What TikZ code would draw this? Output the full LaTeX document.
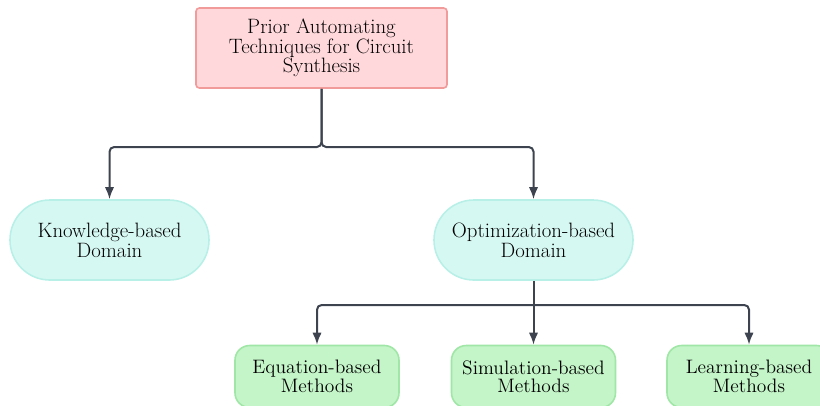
\documentclass[tikz,border=0pt]{standalone}
\usetikzlibrary{arrows.meta}
\definecolor{topfill}{HTML}{FFD8DB}
\definecolor{topdraw}{HTML}{F29B9B}
\definecolor{midfill}{HTML}{D6F8F3}
\definecolor{middraw}{HTML}{B8F0E8}
\definecolor{botfill}{HTML}{C4F5C8}
\definecolor{botdraw}{HTML}{A0E6A6}
\definecolor{conncol}{HTML}{3D4450}
\tikzset{
  topbox/.style={draw=topdraw, fill=topfill, line width=1.2pt, rounded corners=2.5pt,
    minimum width=188.25pt, minimum height=60pt, align=center, inner sep=0pt,
    font=\fontsize{15.6pt}{14.5pt}\selectfont},
  midbox/.style={draw=middraw, fill=midfill, line width=1.2pt, rounded corners=29.9pt,
    minimum width=149.25pt, minimum height=60pt, align=center, inner sep=0pt,
    font=\fontsize{15.6pt}{14.8pt}\selectfont},
  botbox/.style={draw=botdraw, fill=botfill, line width=1.2pt, rounded corners=11pt,
    minimum width=123pt, minimum height=46.5pt, align=center, inner sep=0pt,
    font=\fontsize{14.6pt}{13.8pt}\selectfont},
  conn/.style={draw=conncol, line width=1.5pt, rounded corners=3.5pt,
    -{Latex[length=9pt,width=7pt]}}
}
\begin{document}
\begin{tikzpicture}[x=0.75pt,y=-0.75pt]
\useasboundingbox (0,0) rectangle (820,405);
\node[topbox] (top) at (321.5,48) {Prior Automating\\Techniques for Circuit\\Synthesis};
\node[midbox] (kb) at (109.5,240) {Knowledge-based\\Domain};
\node[midbox] (opt) at (533.5,240) {Optimization-based\\Domain};
\node[botbox] (eq) at (317,376.5) {Equation-based\\Methods};
\node[botbox] (sim) at (533.5,376.5) {Simulation-based\\Methods};
\node[botbox] (lb) at (749,376.5) {Learning-based\\Methods};
\coordinate (j1) at (321.5,147);
\coordinate (j2) at (533.5,305);
\draw[conn] (top.south) -- (j1) -| (kb.north);
\draw[conn] (top.south) -- (j1) -| (opt.north);
\draw[conn] (j2) -| (eq.north);
\draw[conn] (j2) -| (lb.north);
\draw[conn] (opt.south) -- (sim.north);
\end{tikzpicture}
\end{document}
